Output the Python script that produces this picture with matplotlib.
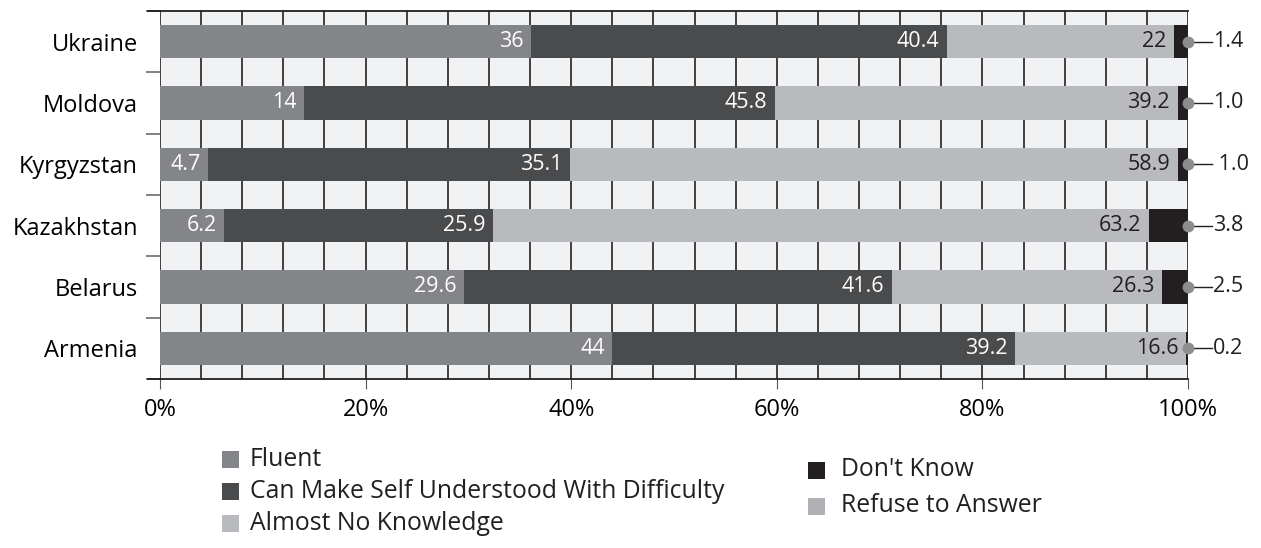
import numpy as np
import matplotlib.pyplot as plt
from matplotlib.patches import Rectangle

plt.rcParams['font.family'] = ['Open Sans', 'DejaVu Sans']

countries = ['Ukraine', 'Moldova', 'Kyrgyzstan', 'Kazakhstan', 'Belarus', 'Armenia']
fluent = [36, 14, 4.7, 6.2, 29.6, 44]
difficulty = [40.4, 45.8, 35.1, 25.9, 41.6, 39.2]
no_knowledge = [22, 39.2, 58.9, 63.2, 26.3, 16.6]
dont_know = [1.4, 1.0, 1.0, 3.8, 2.5, 0.2]
refuse = [0, 0, 0, 0, 0, 0]
dont_know_labels = ['1.4', '1.0', ' 1.0', '3.8', '2.5', '0.2']

series = [fluent, difficulty, no_knowledge, dont_know, refuse]
names = ['Fluent', 'Can Make Self Understood With Difficulty', 'Almost No Knowledge',
         "Don't Know", 'Refuse to Answer']
colors = ['#848589', '#4a4b4d', '#b9babd', '#231f20', '#b0b1b4']
label_colors = ['white', 'white', '#231f20']

W, H = 1261, 548
fig = plt.figure(figsize=(W / 100, H / 100), dpi=100)
ax = fig.add_axes([160 / W, 1 - 379 / H, 1028 / W, 368 / H])
ax.set_facecolor('#f1f2f4')

data = np.array(series, dtype=float)
totals = data.sum(axis=0)
pct = data / totals * 100
y = np.arange(len(countries))

left = np.zeros(len(countries))
for i, (vals, col) in enumerate(zip(pct, colors)):
    ax.barh(y, vals, left=left, height=0.54, color=col, zorder=2)
    if i < 3:
        for j in range(len(countries)):
            ax.text(left[j] + vals[j] - 0.75, y[j], f'{series[i][j]:g}', ha='right', va='center',
                    fontsize=15.5, color=label_colors[i], zorder=3)
    left += vals

# callouts for Don't Know
for j in range(len(countries)):
    ax.plot([100, 102.3], [y[j], y[j]], color='#231f20', lw=1, clip_on=False, zorder=4)
    ax.plot(100, y[j], 'o', ms=7.5, color='#8d8d8f', clip_on=False, zorder=5)
    ax.text(102.4, y[j], dont_know_labels[j], ha='left', va='center', fontsize=15.5,
            color='#231f20')

ax.set_xlim(0, 100)
ax.set_ylim(len(countries) - 0.5, -0.5)

ax.set_xticks(np.arange(0, 101, 20))
ax.set_xticklabels([f'{v}%' for v in range(0, 101, 20)], fontsize=17)
ax.set_xticks(np.arange(0, 101, 4), minor=True)
ax.grid(True, which='both', axis='x', color='#333333', lw=1.3, zorder=1)
ax.set_axisbelow(True)
ax.tick_params(axis='x', which='major', length=7, color='#555555', pad=7)
ax.tick_params(axis='x', which='minor', length=0)

ax.set_yticks(y)
ax.set_yticklabels(countries, fontsize=17)
ax.set_yticks(np.arange(-0.5, len(countries)), minor=True)
ax.tick_params(axis='y', which='major', length=0, pad=16)
ax.tick_params(axis='y', which='minor', length=10, color='#777777', width=1.3)

for s in ['left', 'right']:
    ax.spines[s].set_visible(False)
for s in ['top', 'bottom']:
    ax.spines[s].set_color('#231f20')
    ax.spines[s].set_linewidth(1.3)
for yy in [-0.5, len(countries) - 0.5]:
    ax.plot([-1.2, 0], [yy, yy], color='#231f20', lw=1.3, clip_on=False)

# legend, two columns
legend_pos = [(222, 459), (222, 491), (222, 523), (808, 470), (808, 506)]
sq = 17
for (px, py), name, col in zip(legend_pos, names, colors):
    fig.patches.append(Rectangle((px / W, 1 - (py + sq / 2) / H), sq / W, sq / H,
                                 transform=fig.transFigure, facecolor=col, edgecolor='none'))
    fig.text((px + 28 + (5 if px > 500 else 0)) / W, 1 - py / H, name, ha='left', va='center',
             fontsize=17.8, color='#231f20')

fig.savefig('out.png', dpi=100)
